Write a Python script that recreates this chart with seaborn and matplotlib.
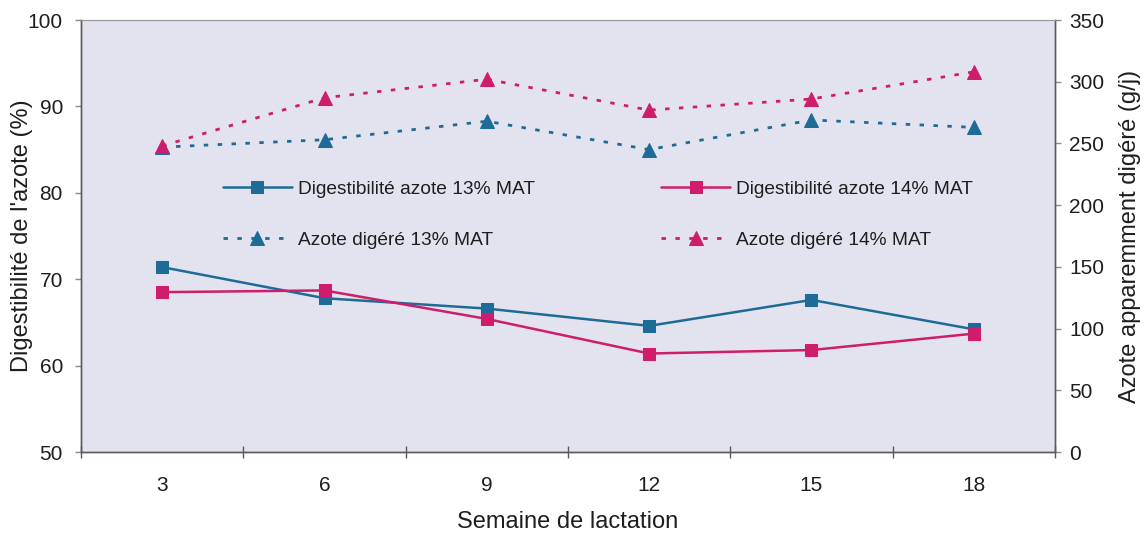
import numpy as np
import matplotlib
matplotlib.use("Agg")
import matplotlib.pyplot as plt
import seaborn as sns

# Weeks of lactation (categories on the x axis)
weeks = [3, 6, 9, 12, 15, 18]

# Nitrogen digestibility (%), left axis
dig_13 = [71.4, 67.8, 66.6, 64.6, 67.6, 64.2]
dig_14 = [68.5, 68.7, 65.4, 61.4, 61.8, 63.7]

# Apparently digested nitrogen (g/j), right axis
az_13 = [247, 253, 268, 245, 269, 263]
az_14 = [248, 287, 302, 277, 286, 308]

labels = [
    "Digestibilité azote 13% MAT",
    "Digestibilité azote 14% MAT",
    "Azote digéré 13% MAT",
    "Azote digéré 14% MAT",
]

BLUE = "#1f6b98"
MAGENTA = "#cf1c6c"
BG = "#e3e3ef"
TXT = "#1e1e1e"
SPINE = "#5a5a5a"

sns.set_theme(style="white")
plt.rcParams["font.family"] = ["Liberation Sans", "DejaVu Sans"]

W, H = 1145, 539
fig = plt.figure(figsize=(W / 100, H / 100), dpi=100)
fig.patch.set_facecolor("white")
ax1 = fig.add_axes([81 / W, (H - 452) / H, 974 / W, 432 / H])
ax1.set_facecolor(BG)
ax2 = ax1.twinx()
ax2.set_facecolor("none")

pos = np.arange(len(weeks))

line_kw = dict(linewidth=1.8, markersize=8.8, sort=False)
sns.lineplot(x=pos, y=dig_13, ax=ax1, color=BLUE, marker="s",
             markeredgecolor=BLUE, label=labels[0], **line_kw)
sns.lineplot(x=pos, y=dig_14, ax=ax1, color=MAGENTA, marker="s",
             markeredgecolor=MAGENTA, label=labels[1], **line_kw)

dash_kw = dict(linewidth=2.0, markersize=9.5, sort=False)
sns.lineplot(x=pos, y=az_13, ax=ax2, color=BLUE, marker="^",
             markeredgecolor=BLUE, label=labels[2], **dash_kw)
sns.lineplot(x=pos, y=az_14, ax=ax2, color=MAGENTA, marker="^",
             markeredgecolor=MAGENTA, label=labels[3], **dash_kw)
for ln in ax2.get_lines():
    ln.set_dashes((1.6, 3.4))

ax1.set_xlim(-0.5, len(weeks) - 0.5)
ax1.set_ylim(50, 100)
ax2.set_ylim(0, 350)
ax1.set_yticks(np.arange(50, 101, 10))
ax2.set_yticks(np.arange(0, 351, 50))

# category labels centred, tick marks on the boundaries between categories
ax1.set_xticks(pos)
ax1.set_xticklabels([str(w) for w in weeks])
ax1.set_xticks(np.arange(-0.5, len(weeks), 1), minor=True)
ax1.tick_params(axis="x", which="major", length=0, pad=17, labelsize=15, labelcolor=TXT)
ax1.tick_params(axis="x", which="minor", length=8, direction="inout",
                width=1, color=SPINE, bottom=True)
ax1.tick_params(axis="y", which="major", length=4, width=1, color="#8a8a8a",
                direction="out", left=True, pad=9, labelsize=15, labelcolor=TXT)
ax2.tick_params(axis="y", which="major", length=4, width=1, color="#8a8a8a",
                direction="out", right=True, pad=6, labelsize=15, labelcolor=TXT)

ax1.set_xlabel("Semaine de lactation", fontsize=17, color=TXT, labelpad=12)
ax1.set_ylabel("Digestibilité de l'azote (%)", fontsize=17, color=TXT)
ax2.set_ylabel("Azote apparemment digéré (g/j)", fontsize=17, color=TXT)
ax1.yaxis.set_label_coords(-0.049, 0.5)
ax2.yaxis.set_label_coords(1.0657, 0.5)

for ax in (ax1, ax2):
    for side in ("left", "right", "bottom"):
        ax.spines[side].set_color(SPINE)
        ax.spines[side].set_linewidth(1.0)
    ax.spines["top"].set_color("#9a9a9a")
    ax.spines["top"].set_linewidth(0.8)

# combined legend inside the plot area
h1, lab1 = ax1.get_legend_handles_labels()
h2, lab2 = ax2.get_legend_handles_labels()
ax1.get_legend().remove()
ax2.get_legend().remove()
handles = [h1[0], h2[0], h1[1], h2[1]]
leg_labels = [lab1[0], lab2[0], lab1[1], lab2[1]]
ax2.legend(handles, leg_labels, ncol=2, frameon=False, loc="upper left",
           bbox_to_anchor=(0.128, 0.668), fontsize=13.8, handlelength=3.6,
           handletextpad=0.3, labelspacing=1.75, columnspacing=6.6,
           labelcolor=TXT)

fig.savefig("out.png", dpi=100)
